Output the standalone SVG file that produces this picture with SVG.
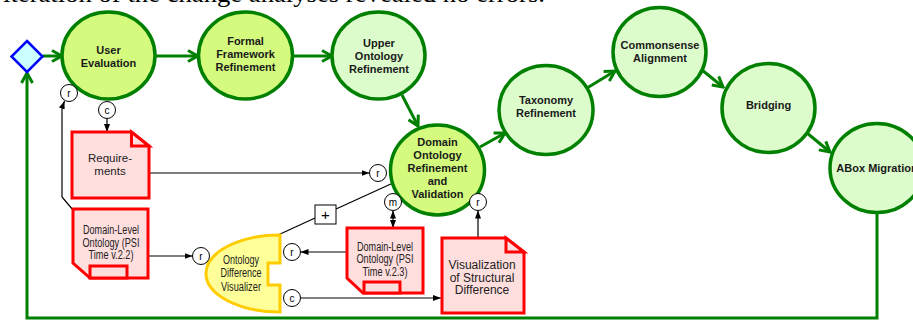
<svg xmlns="http://www.w3.org/2000/svg" width="913" height="320" viewBox="0 0 913 320">
<defs>
<style>
.caption{font-family:"Liberation Serif","Times New Roman",serif;font-size:26px;fill:#000}
.proc{stroke:#008000;stroke-width:3.5}
.p1{fill:#d4fb7d}
.p2{fill:#dcfccc}
.lbl{font-family:"Liberation Sans",Arial,sans-serif;font-size:11px;font-weight:bold;fill:#1a1a1a;text-anchor:middle}
.doc{fill:#ffdede;stroke:#ff0000;stroke-width:3}
.dtxt{font-family:"Liberation Sans",Arial,sans-serif;font-size:11.5px;fill:#222;text-anchor:middle}
.ctxt{font-size:12px}
.flow{fill:none;stroke:#008000;stroke-width:3}
.link{fill:none;stroke:#000;stroke-width:1.2}
.port{fill:#fff;stroke:#000;stroke-width:1}
.ptxt{font-family:"Liberation Sans",Arial,sans-serif;font-size:10px;fill:#000;text-anchor:middle}
</style>
<marker id="ga" viewBox="0 0 14 14" refX="12" refY="7" markerWidth="14" markerHeight="14" markerUnits="userSpaceOnUse" orient="auto">
<path d="M2,1.5 L12,7 L2,12.5" fill="none" stroke="#008000" stroke-width="3"/>
</marker>
<marker id="ba" viewBox="0 0 8 8" refX="8" refY="4" markerWidth="8" markerHeight="8" markerUnits="userSpaceOnUse" orient="auto">
<path d="M0,1 L8,4 L0,7 Z" fill="#000"/>
</marker>
<marker id="bs" viewBox="0 0 8 8" refX="0" refY="4" markerWidth="8" markerHeight="8" markerUnits="userSpaceOnUse" orient="auto">
<path d="M8,1 L0,4 L8,7 Z" fill="#000"/>
</marker>
</defs>
<rect width="913" height="320" fill="#fff"/>
<text class="caption" x="3" y="2" textLength="542" lengthAdjust="spacingAndGlyphs">iteration of the change analyses revealed no errors.</text>

<g id="connectors">
<path class="flow" d="M43,56 L62,56" marker-end="url(#ga)"/>
<path class="flow" d="M155,56 L198,56" marker-end="url(#ga)"/>
<path class="flow" d="M293,56 L332,56" marker-end="url(#ga)"/>
<path class="flow" d="M402,95 L418,126" marker-end="url(#ga)"/>
<path class="flow" d="M480,147 L505,133" marker-end="url(#ga)"/>
<path class="flow" d="M587,88 L615,71" marker-end="url(#ga)"/>
<path class="flow" d="M702,70 L723,87" marker-end="url(#ga)"/>
<path class="flow" d="M807,133 L830,152" marker-end="url(#ga)"/>
<path class="flow" d="M877,213 V318 H27 V73" marker-end="url(#ga)"/>

<path class="link" d="M107,118.5 V132" marker-end="url(#ba)"/>
<path class="link" d="M73,210 L62,197 V108 L64.5,101" marker-end="url(#ba)"/>
<path class="link" d="M149,173 H369.5" marker-end="url(#ba)"/>
<path class="link" d="M148,256 H192.5" marker-end="url(#ba)"/>
<path class="link" d="M347,252 H300.5" marker-end="url(#ba)"/>
<path class="link" d="M300.5,298 H441" marker-end="url(#ba)"/>
<path class="link" d="M393,210.5 V228" marker-start="url(#bs)" marker-end="url(#ba)"/>
<path class="link" d="M478,238 V210.5" marker-end="url(#ba)"/>
<path class="link" d="M278,235 L315,218"/>
<path class="link" d="M336,209 L393,183"/>
</g>

<g id="start">
<path d="M27,41 L42.5,56.5 L27,72 L11.5,56.5 Z" fill="#ccffff" stroke="#0000ff" stroke-width="2.5"/>
</g>

<g id="user-evaluation">
<ellipse class="proc p1" cx="108.5" cy="55.5" rx="46.5" ry="43.5"/>
<text class="lbl" x="108.5" y="54">User</text>
<text class="lbl" x="108.5" y="67">Evaluation</text>
</g>

<g id="formal-framework">
<ellipse class="proc p1" cx="245.5" cy="55.5" rx="47" ry="43.5"/>
<text class="lbl" x="245.5" y="45">Formal</text>
<text class="lbl" x="245.5" y="58">Framework</text>
<text class="lbl" x="245.5" y="71">Refinement</text>
</g>

<g id="upper-ontology">
<ellipse class="proc p2" cx="378.5" cy="55.5" rx="46.5" ry="43.5"/>
<text class="lbl" x="379" y="47">Upper</text>
<text class="lbl" x="379" y="60">Ontology</text>
<text class="lbl" x="379" y="73">Refinement</text>
</g>

<g id="domain-ontology">
<ellipse class="proc p1" cx="437.5" cy="170" rx="47" ry="45"/>
<text class="lbl" x="437.5" y="146">Domain</text>
<text class="lbl" x="437.5" y="159">Ontology</text>
<text class="lbl" x="437.5" y="172">Refinement</text>
<text class="lbl" x="437.5" y="185">and</text>
<text class="lbl" x="437.5" y="198">Validation</text>
</g>

<g id="taxonomy">
<ellipse class="proc p2" cx="546" cy="110" rx="47" ry="44.5"/>
<text class="lbl" x="546" y="104">Taxonomy</text>
<text class="lbl" x="546" y="117">Refinement</text>
</g>

<g id="commonsense">
<ellipse class="proc p2" cx="659.5" cy="52" rx="46.5" ry="44.5"/>
<text class="lbl" x="660" y="49">Commonsense</text>
<text class="lbl" x="660" y="62">Alignment</text>
</g>

<g id="bridging">
<ellipse class="proc p2" cx="768.5" cy="108" rx="46.5" ry="44.5"/>
<text class="lbl" x="768.5" y="109">Bridging</text>
</g>

<g id="abox-migration">
<ellipse class="proc p2" cx="877" cy="168" rx="47" ry="44.5"/>
<text class="lbl" x="877" y="172">ABox Migration</text>
</g>

<g id="requirements">
<path class="doc" d="M72,132 H131.5 L149,146 V198 H72 Z"/>
<path class="doc" d="M131.5,132 V146 H149 Z"/>
<text class="dtxt" x="110" y="162">Require-</text>
<text class="dtxt" x="110" y="175">ments</text>
</g>

<g id="domain-level-22">
<path class="doc" d="M73,209 H148 V278 H90 L73,263 Z"/>
<rect class="doc" x="90" y="266" width="37" height="12"/>
<text class="dtxt ctxt" x="111" y="234" textLength="56" lengthAdjust="spacingAndGlyphs">Domain-Level</text>
<text class="dtxt ctxt" x="111" y="247" textLength="57" lengthAdjust="spacingAndGlyphs">Ontology (PSI</text>
<text class="dtxt ctxt" x="111" y="259" textLength="45" lengthAdjust="spacingAndGlyphs">Time v.2.2)</text>
</g>

<g id="domain-level-23">
<path class="doc" d="M347,228 H423 V293 H363 L347,278 Z"/>
<rect class="doc" x="364" y="282" width="36" height="11"/>
<text class="dtxt ctxt" x="385" y="251" textLength="56" lengthAdjust="spacingAndGlyphs">Domain-Level</text>
<text class="dtxt ctxt" x="385" y="263" textLength="57" lengthAdjust="spacingAndGlyphs">Ontology (PSI</text>
<text class="dtxt ctxt" x="385" y="276" textLength="45" lengthAdjust="spacingAndGlyphs">Time v.2.3)</text>
</g>

<g id="visualization">
<path class="doc" d="M442,238 H506 L524,252 V313 H442 Z"/>
<path class="doc" d="M506,238 V252 H524 Z"/>
<text class="dtxt ctxt" x="482" y="269">Visualization</text>
<text class="dtxt ctxt" x="482" y="282">of Structural</text>
<text class="dtxt ctxt" x="482" y="294">Difference</text>
</g>

<g id="ontology-difference-visualizer">
<path d="M280,235 V263 H268 V285 H280 V312 A74,38.5 0 0 1 280,235 Z" fill="#ffff99" stroke="#ffcc00" stroke-width="3"/>
<text class="dtxt ctxt" x="241" y="264" textLength="36" lengthAdjust="spacingAndGlyphs">Ontology</text>
<text class="dtxt ctxt" x="241" y="277" textLength="41" lengthAdjust="spacingAndGlyphs">Difference</text>
<text class="dtxt ctxt" x="241" y="291" textLength="40" lengthAdjust="spacingAndGlyphs">Visualizer</text>
</g>

<g id="plus">
<rect x="315" y="205" width="21" height="19" fill="#fff" stroke="#000" stroke-width="1"/>
<text x="325.5" y="220" style="font-family:'Liberation Sans',Arial,sans-serif;font-size:15px;text-anchor:middle">+</text>
</g>

<g id="ports">
<circle class="port" cx="69" cy="93" r="8.5"/><text class="ptxt" x="69" y="96.5">r</text>
<circle class="port" cx="107" cy="110" r="8.5"/><text class="ptxt" x="107" y="113.5">c</text>
<circle class="port" cx="201" cy="256" r="8.5"/><text class="ptxt" x="201" y="259.5">r</text>
<circle class="port" cx="292" cy="252" r="8.5"/><text class="ptxt" x="292" y="255.5">r</text>
<circle class="port" cx="292" cy="298" r="8.5"/><text class="ptxt" x="292" y="301.5">c</text>
<circle class="port" cx="378" cy="173" r="8.5"/><text class="ptxt" x="378" y="176.5">r</text>
<circle class="port" cx="393" cy="202" r="8.5"/><text class="ptxt" x="393" y="205.5">m</text>
<circle class="port" cx="478" cy="202" r="8.5"/><text class="ptxt" x="478" y="205.5">r</text>
</g>
</svg>
